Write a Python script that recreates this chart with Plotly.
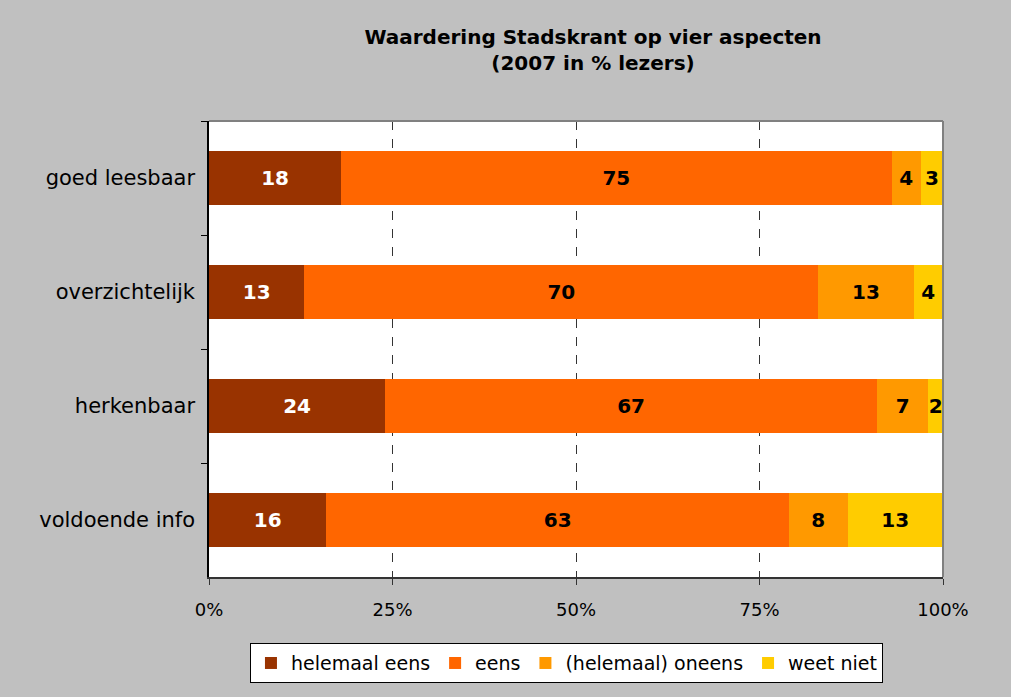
import plotly.graph_objects as go

categories = ["goed leesbaar", "overzichtelijk", "herkenbaar", "voldoende info"]
series_names = ["helemaal eens", "eens", "(helemaal) oneens", "weet niet"]
helemaal_eens = [18, 13, 24, 16]
eens = [75, 70, 67, 63]
oneens = [4, 13, 7, 8]
weet_niet = [3, 4, 2, 13]
x_ticks = [0, 25, 50, 75, 100]

colors = ["#993300", "#FF6600", "#FF9900", "#FFCC00"]
text_colors = ["white", "black", "black", "black"]
font = "'DejaVu Sans', Verdana, sans-serif"

fig = go.Figure()
for name, vals, col, tcol in zip(series_names, [helemaal_eens, eens, oneens, weet_niet], colors, text_colors):
    fig.add_trace(go.Bar(
        y=categories, x=vals, name=name, orientation="h",
        marker=dict(color=col, line=dict(width=0)),
        text=[str(v) for v in vals],
        textposition="inside", insidetextanchor="middle",
        constraintext="none", textangle=0,
        textfont=dict(family=font, size=20, color=tcol, weight="bold"),
        cliponaxis=False,
    ))

fig.update_layout(
    barmode="stack",
    bargap=0.53,
    width=1011, height=697,
    paper_bgcolor="#C0C0C0",
    plot_bgcolor="white",
    margin=dict(l=209, r=68, t=121, b=120),
    title=dict(
        text="<b>Waardering Stadskrant op vier aspecten<br>(2007 in % lezers)</b>",
        x=593 / 1011, xanchor="center", y=1 - 44 / 697, yanchor="middle",
        font=dict(family=font, size=20, color="black"),
    ),
    legend=dict(
        orientation="h", x=0.487, xanchor="center", y=-0.145, yanchor="top",
        bgcolor="white", bordercolor="black", borderwidth=1,
        font=dict(family=font, size=19, color="black"),
        traceorder="normal", itemwidth=30,
    ),
    xaxis=dict(
        range=[0, 100], tickvals=x_ticks, ticktext=[f"{v}%" for v in x_ticks],
        showgrid=True, gridcolor="#333333", griddash="dash", gridwidth=1,
        showline=True, linecolor="#333333", linewidth=1.5,
        ticks="outside", ticklen=6, tickcolor="#333333",
        tickfont=dict(family=font, size=18, color="black"),
        zeroline=False, mirror=False, fixedrange=True, ticklabelstandoff=10,
    ),
    yaxis=dict(
        autorange="reversed", tickson="boundaries",
        showline=True, linecolor="black", linewidth=1.5,
        ticks="outside", ticklen=6, tickcolor="black",
        tickfont=dict(family=font, size=21, color="black"),
        showgrid=False, ticklabelstandoff=8,
    ),
    shapes=[
        dict(type="line", xref="paper", yref="paper", x0=0, x1=1, y0=1, y1=1,
             line=dict(color="#808080", width=2)),
        dict(type="line", xref="paper", yref="paper", x0=1, x1=1, y0=0, y1=1,
             line=dict(color="#808080", width=2)),
    ],
)

fig.write_html(
    "out.html",
    config={"displayModeBar": False},
    post_script="document.body.style.margin='0';document.body.style.background='#C0C0C0';",
)
